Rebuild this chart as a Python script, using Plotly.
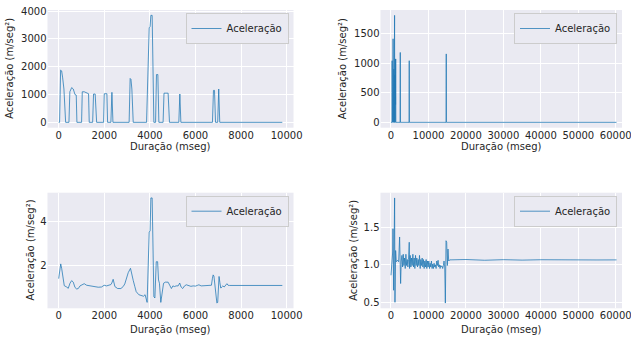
import plotly.graph_objects as go

# ---------------- data ----------------
# Panel 1 (top-left): Aceleração vs Duração
dur1 = [0, 40, 85, 130, 175, 230, 305, 450, 490, 570, 640, 715, 770, 800,
        1005, 1035, 1120, 1180, 1270, 1310, 1340, 1490, 1530, 1600, 1665,
        1970, 2000, 2115, 2145, 2290, 2335, 2380, 3090, 3135, 3170, 3210, 3270,
        3855, 3970, 4010, 4045, 4100, 4175, 4250, 4290, 4350, 4395,
        4580, 4620, 4800, 4860, 5270, 5315, 5360, 6745, 6790, 6835, 6880,
        6975, 7020, 7065, 9810]
acc1 = [0, 0, 1880, 1850, 1600, 1200, 0, 0, 1100, 1250, 1200, 1000, 980, 0,
        0, 1100, 1100, 1070, 1050, 1030, 0, 0, 1020, 1020, 0,
        0, 1030, 1030, 0, 0, 1080, 0, 0, 1580, 1550, 1200, 0,
        0, 3400, 3450, 3850, 3850, 0, 0, 1720, 1720, 0,
        0, 1050, 1050, 0, 0, 1020, 0, 0, 1150, 1150, 0,
        0, 1200, 0, 0]

# Panel 2 (top-right)
dur2 = [0, 260, 300, 340, 380, 420, 480, 560, 600, 650, 700, 760, 820, 880,
        920, 960, 1000, 1060, 1120, 1180, 1220, 1260, 1300,
        2440, 2480, 2520, 4840, 4870, 4900, 14700, 14750, 14800, 60200]
acc2 = [0, 0, 1040, 200, 1040, 0, 600, 1410, 300, 1410, 0, 900, 0, 1806,
        400, 1806, 0, 800, 0, 1070, 300, 1070, 0,
        0, 1180, 0, 0, 1040, 0, 0, 1155, 0, 0]

# Panel 3 (bottom-left)
dur3 = [0, 90, 130, 200, 245, 350, 420, 495, 570, 640, 715, 790, 860, 935,
        1035, 1120, 1225, 1370, 1590, 1735, 1880, 1995, 2100, 2200, 2290,
        2330, 2390, 2465, 2585, 2730, 2830, 2900, 2980, 3050, 3150, 3195,
        3270, 3340, 3400, 3515, 3630, 3720, 3790, 3880, 3970, 4010, 4045,
        4100, 4175, 4220, 4280, 4340, 4380, 4420, 4480, 4540, 4600, 4680,
        4800, 4870, 4945, 5010, 5080, 5150, 5240, 5310, 5370, 5440, 5520,
        5600, 5700, 5800, 5900, 6000, 6100, 6150, 6250, 6400, 6550, 6700,
        6745, 6775, 6810, 6850, 6900, 6940, 6975, 7010, 7035, 7070, 7110,
        7150, 7200, 7260, 7320, 7380, 7430, 7500, 9810]
acc3 = [1.38, 2.05, 1.85, 1.4, 1.06, 1.0, 0.94, 1.17, 1.29, 1.22, 0.98, 0.91,
        0.93, 1.05, 1.12, 1.15, 1.08, 1.05, 1.03, 0.99, 1.0, 1.08, 1.05, 1.08,
        1.11, 1.18, 1.35, 1.02, 0.93, 0.93, 1.02, 1.14, 1.44, 1.65, 1.85, 1.6,
        1.3, 1.02, 0.79, 0.65, 0.6, 0.58, 0.65, 0.3, 3.5, 3.55, 5.05,
        5.05, 0.56, 0.5, 2.15, 2.15, 1.32, 1.17, 0.3, 0.86, 1.17, 1.22,
        1.22, 1.08, 0.93, 1.05, 1.02, 1.05, 1.05, 1.18, 1.0, 0.93, 1.05,
        1.1, 1.08, 1.03, 1.05, 1.04, 1.08, 1.1, 1.05, 1.06, 1.07, 1.08,
        1.4, 1.55, 1.5, 1.0, 0.5, 0.27, 0.3, 1.1, 1.48, 1.2, 0.95,
        1.0, 1.05, 1.0, 1.08, 1.15, 1.08, 1.07, 1.07]

# Panel 4 (bottom-right)
dur4 = [0, 180, 450, 530, 710, 970, 1060, 1240, 1420, 1770, 2040, 2300, 2480,
        2570, 2740, 2920, 3100, 3270, 3450, 3630, 3800, 3980, 4160, 4340,
        4510, 4690, 4870, 4960, 5130, 5310, 5490, 5660, 5840, 6020, 6190,
        6370, 6550, 6720, 6900, 7080, 7260, 7430, 7610, 7790, 7960, 8140,
        8320, 8500, 8670, 8850, 9030, 9200, 9380, 9560, 9730, 9910, 10090,
        10270, 10440, 10620, 10800, 10970, 11150, 11330, 11500, 11680, 11860,
        12040, 12210, 12390, 12570, 12740, 12920, 13100, 13270, 13450, 13630,
        13800, 13980, 14160, 14340, 14510, 14690, 14870, 15040, 15220, 15400,
        15660, 20000, 25000, 30000, 35000, 40000, 45000, 50000, 55000, 60200]
acc4 = [0.86, 1.02, 1.17, 1.48, 0.66, 1.89, 0.5, 1.19, 1.04, 1.06, 1.04, 1.37,
        1.07, 0.75, 1.05, 1.125, 0.97, 1.14, 0.99, 1.09, 0.95, 1.14, 0.99, 1.07,
        0.97, 1.07, 1.3, 0.95, 1.125, 0.97, 1.09, 0.99, 1.14, 0.97, 1.09,
        0.95, 1.125, 0.99, 1.09, 0.97, 1.07, 0.99, 1.125, 0.95, 1.07, 0.99,
        1.09, 0.97, 1.07, 0.95, 1.05, 0.97, 1.07, 0.95, 1.05, 0.97, 1.05,
        0.95, 1.02, 0.97, 1.05, 0.95, 1.01, 0.95, 1.02, 0.97, 1.0,
        0.95, 1.05, 0.99, 1.06, 0.97, 1.0, 0.95, 0.99, 0.97, 0.98,
        0.95, 0.99, 1.05, 0.97, 0.49, 1.32, 1.3, 0.99, 1.21, 1.05,
        1.065, 1.07, 1.06, 1.068, 1.062, 1.067, 1.063, 1.068, 1.064, 1.065]

series_name = "Aceleração"
x_title = "Duração (mseg)"
y_title = "Aceleração (m/seg²)"

# ---------------- figure ----------------
W, H = 631, 339
LINE = "rgba(31,119,180,0.85)"
BG = "#EAEAF2"
TXT = "#262626"
FONT = "DejaVu Sans"

def px_x(p):
    return p / W

def px_y(p):
    return 1 - p / H

panels = [
    dict(x=dur1, y=acc1, xd=(47.5, 293.5), yd=(10, 127.7), xr=[-490.5, 10300.5],
         yr=[-192.5, 4042.5], xt=[0, 2000, 4000, 6000, 8000, 10000],
         yt=[0, 1000, 2000, 3000, 4000], yfmt="d", ytx=10, xty=146),
    dict(x=dur2, y=acc2, xd=(380.5, 622), yd=(10, 127.7), xr=[-2800, 61660],
         yr=[-90.3, 1896.3], xt=[0, 10000, 20000, 30000, 40000, 50000, 60000],
         yt=[0, 500, 1000, 1500], yfmt="d", ytx=343.3, xty=146),
    dict(x=dur3, y=acc3, xd=(47.5, 293.5), yd=(192.7, 308.3), xr=[-490.5, 10300.5],
         yr=[0.031, 5.289], xt=[0, 2000, 4000, 6000, 8000, 10000],
         yt=[2, 4], yfmt="d", ytx=30, xty=329),
    dict(x=dur4, y=acc4, xd=(380.5, 622), yd=(192.7, 308.3), xr=[-2800, 61660],
         yr=[0.42, 1.96], xt=[0, 10000, 20000, 30000, 40000, 50000, 60000],
         yt=[0.5, 1.0, 1.5], yfmt=".1f", ytx=353.3, xty=329),
]

fig = go.Figure()
layout = dict(
    width=W, height=H, margin=dict(l=0, r=0, t=0, b=0),
    paper_bgcolor="white", plot_bgcolor=BG,
    font=dict(family=FONT, size=10, color=TXT),
    showlegend=True,
)
annotations = []
for i, p in enumerate(panels, start=1):
    sfx = "" if i == 1 else str(i)
    assert len(p["x"]) == len(p["y"])
    fig.add_trace(go.Scatter(
        x=p["x"], y=p["y"], mode="lines", name=series_name,
        line=dict(color=LINE, width=0.9),
        xaxis="x" + sfx, yaxis="y" + sfx,
        legend="legend" + sfx,
    ))
    common = dict(showgrid=True, gridcolor="white", gridwidth=1, zeroline=False,
                  showline=False, ticks="", automargin=False,
                  ticklabeloverflow="allow",
                  tickfont=dict(family=FONT, size=10, color=TXT))
    layout["xaxis" + sfx] = dict(common, domain=[px_x(p["xd"][0]), px_x(p["xd"][1])],
                                 anchor="y" + sfx, range=p["xr"],
                                 tickvals=p["xt"], ticktext=[str(v) for v in p["xt"]])
    layout["yaxis" + sfx] = dict(common, domain=[px_y(p["yd"][1]), px_y(p["yd"][0])],
                                 anchor="x" + sfx, range=p["yr"], tickvals=p["yt"],
                                 tickformat=p["yfmt"])
    layout["legend" + sfx] = dict(
        x=px_x(p["xd"][1] - 5), xanchor="right", xref="paper",
        y=px_y(p["yd"][0] + 3), yanchor="top", yref="paper",
        bgcolor=BG, bordercolor="#CCCCCC", borderwidth=1,
        itemwidth=30, tracegroupgap=0,
        font=dict(family=FONT, size=10, color=TXT),
    )
    annotations.append(dict(
        text=y_title, textangle=-90, x=px_x(p["ytx"]), y=px_y((p["yd"][0] + p["yd"][1]) / 2),
        xref="paper", yref="paper", showarrow=False, xanchor="center", yanchor="middle",
        font=dict(family=FONT, size=10, color=TXT)))
    annotations.append(dict(
        text=x_title, x=px_x((p["xd"][0] + p["xd"][1]) / 2), y=px_y(p["xty"]),
        xref="paper", yref="paper", showarrow=False, xanchor="center", yanchor="middle",
        font=dict(family=FONT, size=10, color=TXT)))

layout["annotations"] = annotations
fig.update_layout(**layout)
fig.write_html(
    "out.html",
    config={"displayModeBar": False},
    post_script="document.body.style.margin='0';document.body.style.padding='0';",
)
